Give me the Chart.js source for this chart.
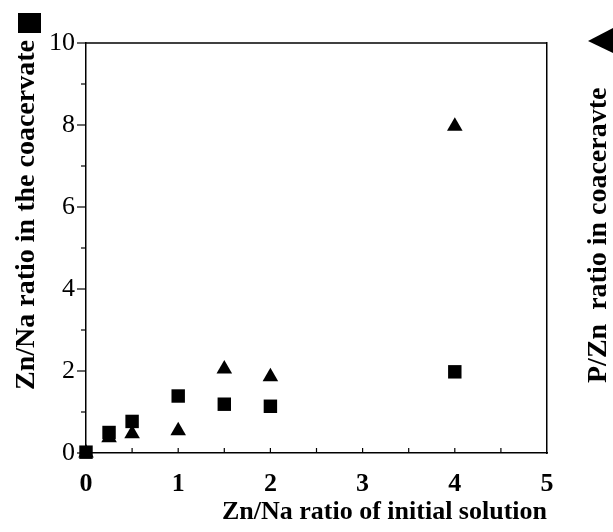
<!DOCTYPE html>
<html>
<head>
<meta charset="utf-8">
<script src="https://cdn.jsdelivr.net/npm/chart.js@4.4.1/dist/chart.umd.min.js"></script>
<style>
  html, body { margin: 0; padding: 0; background: #fff; }
  #wrap { width: 613px; height: 532px; position: relative; }
</style>
</head>
<body>
<div id="wrap"><canvas id="chart"></canvas></div>
<script>
// values
const initialRatio = [0, 0.25, 0.5, 1, 1.5, 2, 4];
const znNaCoacervate = [0.02, 0.5, 0.77, 1.39, 1.19, 1.14, 1.98];
const pZnCoacervate = [0, 0.37, 0.47, 0.54, 2.05, 1.86, 7.97];
const yTicks = [0, 2, 4, 6, 8, 10];
const xTicks = [0, 1, 2, 3, 4, 5];

const serif = '"Liberation Serif", "Times New Roman", serif';
const ink = '#000';

function pairs(xs, ys) {
  return xs.map((x, i) => ({ x, y: ys[i] }));
}

// frame top, tick marks and the two vertical axis titles
const decor = {
  id: 'decor',
  afterDraw(chart) {
    const { ctx, chartArea: a, scales } = chart;
    ctx.save();
    ctx.strokeStyle = ink;
    ctx.lineWidth = 1.5;
    ctx.beginPath();
    ctx.moveTo(a.left, a.top);
    ctx.lineTo(a.right, a.top);
    ctx.stroke();

    ctx.lineWidth = 1.2;
    for (let v = 0; v <= 10; v++) {
      const py = scales.y.getPixelForValue(v);
      const len = v % 2 === 0 ? 9 : 5;
      ctx.beginPath();
      ctx.moveTo(a.left - len, py);
      ctx.lineTo(a.left, py);
      ctx.stroke();
    }
    for (let v = 0.5; v < 5; v += 0.5) {
      const px = scales.x.getPixelForValue(v);
      ctx.beginPath();
      ctx.moveTo(px, a.bottom);
      ctx.lineTo(px, a.bottom - 5);
      ctx.stroke();
    }

    ctx.fillStyle = ink;
    ctx.font = 'bold 28px ' + serif;
    ctx.textBaseline = 'middle';
    ctx.textAlign = 'left';

    ctx.save();
    ctx.translate(26, 390);
    ctx.rotate(-Math.PI / 2);
    ctx.fillText('Zn/Na ratio in the coacervate', 0, 1);
    ctx.restore();
    ctx.fillRect(18, 13, 23, 20);

    ctx.save();
    ctx.translate(598, 383);
    ctx.rotate(-Math.PI / 2);
    ctx.fillText('P/Zn  ratio in coaceravte', 0, 1);
    ctx.restore();
    ctx.beginPath();
    ctx.moveTo(588, 41);
    ctx.lineTo(613, 28);
    ctx.lineTo(613, 53);
    ctx.closePath();
    ctx.fill();
    ctx.restore();
  }
};

new Chart(document.getElementById('chart'), {
  type: 'scatter',
  data: {
    datasets: [
      {
        label: 'Zn/Na ratio in the coacervate',
        data: pairs(initialRatio, znNaCoacervate),
        pointStyle: 'rect',
        pointRadius: 9.5,
        backgroundColor: ink,
        borderColor: ink,
        borderWidth: 0,
        clip: false,
        yAxisID: 'y'
      },
      {
        label: 'P/Zn ratio in coaceravte',
        data: pairs(initialRatio, pZnCoacervate),
        pointStyle: 'triangle',
        pointRadius: 9,
        backgroundColor: ink,
        borderColor: ink,
        borderWidth: 0,
        clip: false,
        yAxisID: 'y2'
      }
    ]
  },
  options: {
    responsive: true,
    maintainAspectRatio: false,
    animation: false,
    layout: { padding: { top: 43, left: 0, right: 0, bottom: 0 } },
    plugins: { legend: { display: false }, tooltip: { enabled: false } },
    scales: {
      x: {
        type: 'linear',
        min: 0,
        max: 5,
        afterBuildTicks: s => { s.ticks = xTicks.map(value => ({ value })); },
        afterFit: s => { s.height = 79; },
        grid: { drawOnChartArea: false, drawTicks: false },
        border: { color: ink, width: 1.5 },
        ticks: {
          padding: 16,
          color: ink,
          font: { family: serif, size: 26, weight: 'bold' }
        },
        title: {
          display: true,
          text: 'Zn/Na ratio of initial solution',
          align: 'end',
          color: ink,
          font: { family: serif, size: 26, weight: 'bold' },
          padding: { top: 0, bottom: 4 }
        }
      },
      y: {
        min: 0,
        max: 10,
        afterBuildTicks: s => { s.ticks = yTicks.map(value => ({ value })); },
        afterFit: s => { s.width = 86; },
        grid: { drawOnChartArea: false, drawTicks: false },
        border: { color: ink, width: 1.5 },
        ticks: {
          padding: 11,
          color: ink,
          font: { family: serif, size: 26 }
        }
      },
      y2: {
        position: 'right',
        min: 0,
        max: 10,
        afterFit: s => { s.width = 66; },
        grid: { drawOnChartArea: false, drawTicks: false },
        border: { color: ink, width: 1.5 },
        ticks: { display: false }
      }
    }
  },
  plugins: [decor]
});
</script>
</body>
</html>
